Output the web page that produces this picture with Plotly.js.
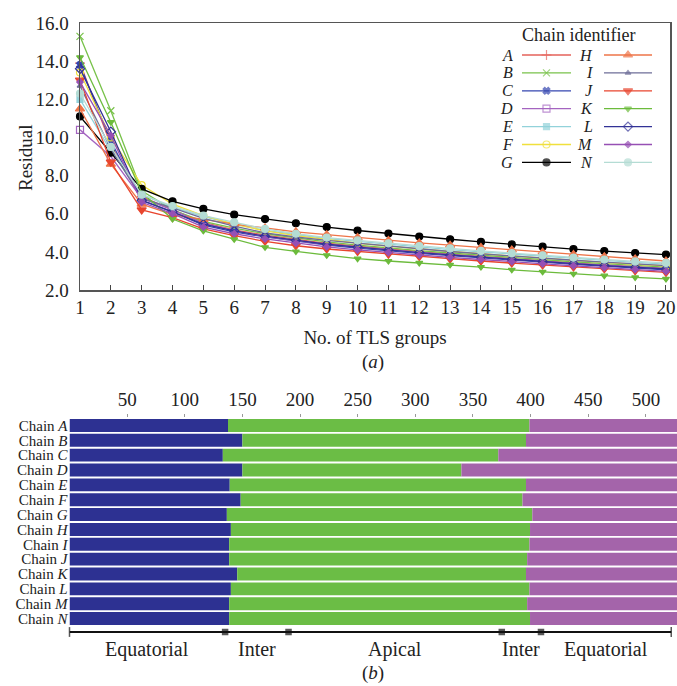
<!DOCTYPE html>
<html>
<head>
<meta charset="utf-8">
<script src="https://cdn.plot.ly/plotly-3.0.1.min.js"></script>
<style>
  html, body { margin: 0; padding: 0; background: #fff; }
  #chart { width: 677px; height: 686px; }
</style>
</head>
<body>
<div id="chart"></div>
<script>
// ---- (a) TLS refinement residual vs. number of TLS groups ----
const tlsGroups = [1, 2, 3, 4, 5, 6, 7, 8, 9, 10, 11, 12, 13, 14, 15, 16, 17, 18, 19, 20];
const chainIds = ['A', 'B', 'C', 'D', 'E', 'F', 'G', 'H', 'I', 'J', 'K', 'L', 'M', 'N'];

const residualA = [13.9, 9.6, 6.9, 6.2, 5.55, 5.15, 4.88, 4.65, 4.45, 4.3, 4.15, 4.0, 3.88, 3.76, 3.64, 3.53, 3.42, 3.32, 3.22, 3.13];
const residualB = [15.3, 11.4, 7.2, 6.2, 5.6, 5.25, 4.95, 4.72, 4.52, 4.35, 4.2, 4.06, 3.94, 3.82, 3.7, 3.59, 3.48, 3.38, 3.29, 3.2];
const residualC = [13.8, 9.8, 6.7, 6.1, 5.4, 5.05, 4.78, 4.56, 4.36, 4.2, 4.05, 3.92, 3.8, 3.68, 3.56, 3.45, 3.35, 3.25, 3.15, 3.06];
const residualD = [10.4, 9.0, 6.8, 6.2, 5.5, 5.1, 4.8, 4.58, 4.4, 4.25, 4.1, 3.97, 3.85, 3.73, 3.61, 3.5, 3.4, 3.3, 3.2, 3.12];
const residualE = [12.0, 9.3, 7.0, 6.35, 5.85, 5.45, 5.12, 4.9, 4.7, 4.55, 4.4, 4.25, 4.12, 4.0, 3.88, 3.76, 3.65, 3.55, 3.45, 3.36];
const residualF = [13.4, 10.0, 7.5, 6.5, 5.9, 5.45, 5.1, 4.85, 4.65, 4.45, 4.3, 4.15, 4.02, 3.9, 3.78, 3.66, 3.55, 3.45, 3.35, 3.26];
const residualG = [11.1, 9.2, 7.3, 6.65, 6.25, 5.95, 5.72, 5.5, 5.3, 5.12, 4.96, 4.8, 4.66, 4.52, 4.39, 4.27, 4.14, 4.04, 3.94, 3.86];
const residualH = [11.5, 8.6, 6.5, 5.95, 5.7, 5.45, 5.25, 5.05, 4.9, 4.75, 4.6, 4.47, 4.35, 4.23, 4.1, 3.98, 3.86, 3.75, 3.63, 3.52];
const residualI = [12.7, 9.4, 6.8, 6.3, 5.75, 5.35, 5.0, 4.78, 4.6, 4.45, 4.3, 4.15, 4.02, 3.9, 3.78, 3.67, 3.56, 3.46, 3.37, 3.28];
const residualJ = [13.0, 8.7, 6.2, 5.8, 5.2, 4.85, 4.55, 4.32, 4.15, 4.02, 3.88, 3.75, 3.63, 3.52, 3.41, 3.31, 3.21, 3.11, 3.01, 2.92];
const residualK = [14.2, 10.8, 7.1, 5.72, 5.1, 4.66, 4.24, 4.02, 3.82, 3.64, 3.52, 3.42, 3.32, 3.2, 3.06, 2.95, 2.85, 2.75, 2.66, 2.58];
const residualL = [13.6, 10.3, 6.7, 6.1, 5.45, 5.1, 4.82, 4.6, 4.4, 4.25, 4.1, 3.96, 3.84, 3.72, 3.6, 3.49, 3.38, 3.28, 3.18, 3.1];
const residualM = [12.9, 10.1, 6.6, 6.0, 5.3, 4.95, 4.68, 4.45, 4.26, 4.1, 3.96, 3.83, 3.71, 3.6, 3.48, 3.37, 3.27, 3.17, 3.07, 2.98];
const residualN = [12.3, 9.5, 7.0, 6.4, 5.9, 5.55, 5.2, 4.95, 4.75, 4.6, 4.45, 4.3, 4.18, 4.05, 3.93, 3.82, 3.7, 3.6, 3.5, 3.42];

// ---- (b) domain boundaries (residue numbers) per chain ----
const chainLabels = ['A', 'B', 'C', 'D', 'E', 'F', 'G', 'H', 'I', 'J', 'K', 'L', 'M', 'N'];
const equatorialEnd = [137.5, 150, 133, 150, 139, 148.5, 136.5, 140, 138.5, 138.5, 145.5, 140, 138.5, 138.5];
const apicalEnd = [399, 396, 372, 340, 396, 393, 401.5, 399.5, 399, 397, 396, 399, 397, 399.5];
const chainLength = [530, 530, 530, 530, 530, 530, 530, 530, 530, 530, 530, 530, 530, 530];

const regionBounds = [0, 135, 190, 375, 409, 522];
const regionNames = ['Equatorial', 'Inter', 'Apical', 'Inter', 'Equatorial'];

// ---- styling ----
const FONT = 'Liberation Serif, Times New Roman, serif';
const INK = '#222';
const W = 677, H = 686;

const residuals = {A: residualA, B: residualB, C: residualC, D: residualD, E: residualE, F: residualF, G: residualG,
                   H: residualH, I: residualI, J: residualJ, K: residualK, L: residualL, M: residualM, N: residualN};

const chainStyle = {
  A: {color: '#e5625a', symbol: 'cross-thin-open', size: 7},
  B: {color: '#78c24a', symbol: 'x-thin-open', size: 7},
  C: {color: '#3446b0', symbol: 'x', size: 6},
  D: {color: '#a464c0', symbol: 'square-open', size: 7},
  E: {color: '#92d2da', symbol: 'square', size: 6},
  F: {color: '#f0e03c', symbol: 'circle-open', size: 7},
  G: {color: '#000000', symbol: 'circle', size: 7},
  H: {color: '#ee7448', symbol: 'triangle-up', size: 8},
  I: {color: '#6e6e98', symbol: 'triangle-up', size: 5},
  J: {color: '#e8452e', symbol: 'triangle-down', size: 8},
  K: {color: '#6cbb3c', symbol: 'triangle-down', size: 6},
  L: {color: '#323296', symbol: 'diamond-open', size: 7},
  M: {color: '#9650b4', symbol: 'diamond', size: 5},
  N: {color: '#b4dcd4', symbol: 'circle', size: 7}
};

const traces = [];

// residual curves
chainIds.forEach(id => {
  const s = chainStyle[id];
  traces.push({
    type: 'scatter', mode: 'lines+markers',
    x: tlsGroups, y: residuals[id], name: id,
    xaxis: 'x', yaxis: 'y',
    line: {color: s.color, width: 1.3},
    marker: {color: s.color, symbol: s.symbol, size: s.size, line: {color: s.color, width: 1.2}},
    showlegend: false, cliponaxis: false
  });
});

// legend samples: two columns (A–G, H–N), letter on the left of each sample line
const legendRow0 = 55, legendRowStep = 17.9;
const legendCols = [{letterX: 515, x0: 522, x1: 571}, {letterX: 595, x0: 604, x1: 652}];
const annotations = [];
chainIds.forEach((id, i) => {
  const s = chainStyle[id];
  const col = legendCols[Math.floor(i / 7)];
  const yy = legendRow0 + (i % 7) * legendRowStep;
  traces.push({
    type: 'scatter', mode: 'lines+markers',
    x: [col.x0, (col.x0 + col.x1) / 2, col.x1], y: [yy, yy, yy],
    xaxis: 'x4', yaxis: 'y4', hoverinfo: 'skip', showlegend: false,
    line: {color: s.color, width: 1.3},
    marker: {color: s.color, symbol: s.symbol, size: [0, s.size, 0], line: {color: s.color, width: 1.2}}
  });
  annotations.push({
    xref: 'x4', yref: 'y4', x: col.letterX, y: yy, xanchor: 'right', yanchor: 'middle',
    text: '<i>' + id + '</i>', showarrow: false,
    font: {family: FONT, size: 16, color: INK}
  });
});
annotations.push({
  xref: 'x4', yref: 'y4', x: 578, y: 35, xanchor: 'center', yanchor: 'middle',
  text: 'Chain identifier', showarrow: false, font: {family: FONT, size: 18, color: INK}
});

// stacked domain bars
const rowNames = chainLabels.map(c => 'Chain ' + c);
const rowText = chainLabels.map(c => 'Chain <i>' + c + '</i>');
traces.push({
  type: 'bar', orientation: 'h', xaxis: 'x2', yaxis: 'y2',
  y: rowNames, x: equatorialEnd, base: equatorialEnd.map(() => 0),
  marker: {color: '#2d3192', line: {width: 0}}, showlegend: false, name: 'Equatorial'
});
traces.push({
  type: 'bar', orientation: 'h', xaxis: 'x2', yaxis: 'y2',
  y: rowNames, x: apicalEnd.map((v, i) => v - equatorialEnd[i]), base: equatorialEnd,
  marker: {color: '#6bbd45', line: {width: 0}}, showlegend: false, name: 'Apical'
});
traces.push({
  type: 'bar', orientation: 'h', xaxis: 'x2', yaxis: 'y2',
  y: rowNames, x: chainLength.map((v, i) => v - apicalEnd[i]), base: apicalEnd,
  marker: {color: '#a464aa', line: {width: 0}}, showlegend: false, name: 'Equatorial (C-term)'
});

// region bracket below the bars
traces.push({
  type: 'scatter', mode: 'lines+markers', xaxis: 'x2', yaxis: 'y3',
  x: regionBounds, y: regionBounds.map(() => 0),
  line: {color: '#111', width: 2},
  marker: {
    color: '#111',
    symbol: regionBounds.map((v, i) => (i === 0 || i === regionBounds.length - 1) ? 'line-ns' : 'square'),
    size: regionBounds.map((v, i) => (i === 0 || i === regionBounds.length - 1) ? 7 : 5),
    line: {color: '#111', width: 1.5}
  },
  showlegend: false, hoverinfo: 'skip', cliponaxis: false
});
regionNames.forEach((name, i) => {
  annotations.push({
    xref: 'x2', yref: 'paper', x: (regionBounds[i] + regionBounds[i + 1]) / 2, y: (H - 649) / H,
    xanchor: 'center', yanchor: 'middle', text: name, showarrow: false,
    font: {family: FONT, size: 20, color: INK}
  });
});

// axis title and panel captions
annotations.push({xref: 'paper', yref: 'paper', x: 25 / W, y: (H - 158) / H, xanchor: 'center', yanchor: 'middle',
  text: 'Residual', textangle: -90, showarrow: false, font: {family: FONT, size: 19, color: INK}});
annotations.push({xref: 'paper', yref: 'paper', x: 373 / W, y: (H - 362) / H, xanchor: 'center', yanchor: 'middle',
  text: '(<i>a</i>)', showarrow: false, font: {family: FONT, size: 19, color: INK}});
annotations.push({xref: 'paper', yref: 'paper', x: 373 / W, y: (H - 673) / H, xanchor: 'center', yanchor: 'middle',
  text: '(<i>b</i>)', showarrow: false, font: {family: FONT, size: 19, color: INK}});

const layout = {
  width: W, height: H,
  margin: {l: 0, r: 0, t: 0, b: 0, pad: 0},
  paper_bgcolor: '#fff', plot_bgcolor: 'rgba(0,0,0,0)',
  font: {family: FONT, color: INK, size: 18},
  showlegend: false,
  barmode: 'overlay', bargap: 0.13,
  xaxis: {
    domain: [80 / W, 670 / W], range: [1, 20.13], anchor: 'y',
    tickvals: tlsGroups, ticks: 'inside', ticklen: 5, tickcolor: '#444', tickwidth: 1,
    showline: true, mirror: true, linecolor: '#555', linewidth: 1.5,
    showgrid: false, zeroline: false,
    tickfont: {family: FONT, size: 19, color: INK},
    title: {text: 'No. of TLS groups', font: {family: FONT, size: 19, color: INK}, standoff: 13}
  },
  yaxis: {
    domain: [(H - 290) / H, (H - 23) / H], range: [2, 16], anchor: 'x',
    dtick: 2, tickformat: '.1f', ticks: '', ticklabelstandoff: 6,
    showline: true, mirror: true, linecolor: '#555', linewidth: 1.5,
    showgrid: false, zeroline: false,
    tickfont: {family: FONT, size: 19, color: INK}
  },
  xaxis2: {
    domain: [69.5 / W, 1], range: [0, 527], anchor: 'y2', side: 'top',
    tickvals: [50, 100, 150, 200, 250, 300, 350, 400, 450, 500],
    ticks: 'outside', ticklen: 3, tickcolor: '#999',
    showline: false, showgrid: false, zeroline: false,
    tickfont: {family: FONT, size: 19, color: INK}
  },
  yaxis2: {
    domain: [(H - 626) / H, (H - 418) / H], anchor: 'x2',
    type: 'category', autorange: 'reversed',
    tickmode: 'array', tickvals: rowNames, ticktext: rowText,
    ticks: '', showline: false, showgrid: false, zeroline: false, ticklabelstandoff: 1,
    tickfont: {family: FONT, size: 15, color: INK}
  },
  yaxis3: {
    domain: [(H - 640) / H, (H - 624) / H], range: [-1, 1], anchor: 'x2',
    visible: false
  },
  xaxis4: {domain: [0, 1], range: [0, W], anchor: 'y4', visible: false, fixedrange: true},
  yaxis4: {domain: [0, 1], range: [H, 0], anchor: 'x4', visible: false, fixedrange: true},
  annotations: annotations
};

Plotly.newPlot('chart', traces, layout, {displayModeBar: false, staticPlot: true});
</script>
</body>
</html>
